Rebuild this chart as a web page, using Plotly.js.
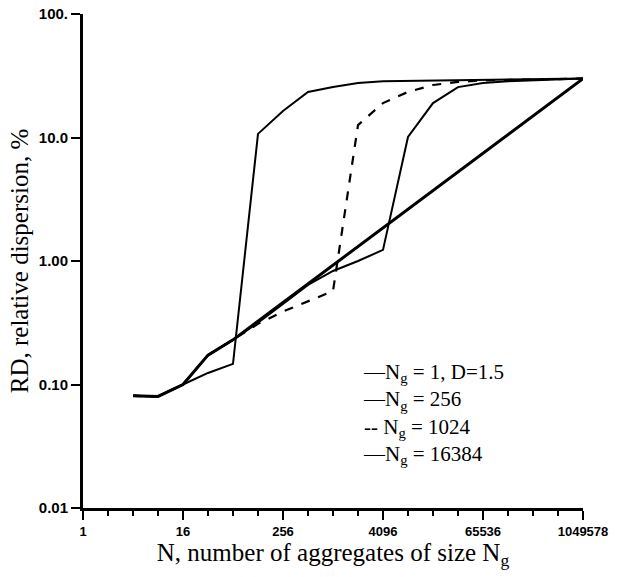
<!DOCTYPE html>
<html>
<head>
<meta charset="utf-8">
<script src="https://cdn.plot.ly/plotly-3.0.1.min.js"></script>
<style>html,body{margin:0;padding:0;background:#fff;}#chart{width:624px;height:577px;}</style>
</head>
<body>
<div id="chart"></div>
<script>
// Data
const nD15 = [4, 8, 16, 32, 64, 4096, 1048576];
const rdD15 = [0.081, 0.080, 0.10, 0.173, 0.23, 1.85, 30];

const n256 = [4, 8, 16, 32, 64, 128, 256, 512, 1024, 2048, 4096, 1048576];
const rd256 = [0.081, 0.080, 0.10, 0.124, 0.147, 10.7, 16.4, 23.4, 25.6, 27.6, 28.6, 30];

const n1024 = [4, 8, 16, 32, 64, 128, 256, 512, 1024, 2048, 4096, 8192, 16384, 32768, 65536, 1048576];
const rd1024 = [0.081, 0.080, 0.10, 0.173, 0.23, 0.31, 0.39, 0.47, 0.57, 12.6, 19, 23.4, 26.6, 28.2, 29, 30];

const n16384 = [4, 8, 16, 32, 64, 128, 256, 512, 1024, 2048, 4096, 8192, 16384, 32768, 65536, 131072, 1048576];
const rd16384 = [0.081, 0.080, 0.10, 0.173, 0.23, 0.317, 0.45, 0.64, 0.83, 1.0, 1.23, 10.1, 19, 25.6, 27.6, 28.5, 30];

const xTickVals = [1, 16, 256, 4096, 65536, 1048576];
const xTickText = ['1', '16', '256', '4096', '65536', '1049578'];
const xMinorVals = [2, 4, 8, 32, 64, 128, 512, 1024, 2048, 8192, 16384, 32768, 131072, 262144, 524288];
const yTickVals = [0.01, 0.1, 1, 10, 100];
const yTickText = ['0.01', '0.10', '1.00', '10.0', '100.'];

const seriesNames = ['N<sub>g</sub> = 1, D=1.5', 'N<sub>g</sub> = 256', 'N<sub>g</sub> = 1024', 'N<sub>g</sub> = 16384'];
const legendMarks = ['\u2014', '\u2014', '-- ', '\u2014'];

const traces = [
  {x: nD15, y: rdD15, name: seriesNames[0], mode: 'lines', line: {color: '#000', width: 3}},
  {x: n256, y: rd256, name: seriesNames[1], mode: 'lines', line: {color: '#000', width: 2}},
  {x: n1024, y: rd1024, name: seriesNames[2], mode: 'lines', line: {color: '#000', width: 2.2, dash: 'dash'}},
  {x: n16384, y: rd16384, name: seriesNames[3], mode: 'lines', line: {color: '#000', width: 2}}
];

// Legend drawn as text lines, like the original figure
const legendText = seriesNames.map((nm, i) => legendMarks[i] + nm).join('<br>');

const layout = {
  width: 624, height: 577,
  margin: {l: 83, r: 41, t: 14, b: 69},
  paper_bgcolor: '#fff', plot_bgcolor: '#fff',
  showlegend: false,
  annotations: [{
    xref: 'paper', yref: 'paper',
    x: 0.556, y: 0.303,
    xanchor: 'left', yanchor: 'top', align: 'left',
    text: legendText,
    showarrow: false,
    font: {family: 'Liberation Serif, serif', size: 21, color: '#000'}
  }],
  xaxis: {
    type: 'log', range: [0, Math.log10(1048576)],
    tickmode: 'array', tickvals: xTickVals, ticktext: xTickText,
    ticks: 'outside', ticklen: 9, tickwidth: 2, tickcolor: '#000',
    minor: {tickmode: 'array', tickvals: xMinorVals, ticks: 'outside', ticklen: 5, tickwidth: 2, tickcolor: '#000'},
    showline: true, linewidth: 3, linecolor: '#000',
    showgrid: false, zeroline: false,
    tickfont: {family: 'Liberation Sans, Arial, sans-serif', size: 13, color: '#000', weight: 'bold'},
    title: {text: 'N, number of aggregates of size N<sub>g</sub>', font: {family: 'Liberation Serif, serif', size: 25, color: '#000'}, standoff: 2}
  },
  yaxis: {
    type: 'log', range: [-2, 2],
    tickmode: 'array', tickvals: yTickVals, ticktext: yTickText,
    ticks: 'outside', ticklen: 9, tickwidth: 2, tickcolor: '#000',
    showline: true, linewidth: 3, linecolor: '#000',
    showgrid: false, zeroline: false,
    tickfont: {family: 'Liberation Sans, Arial, sans-serif', size: 15, color: '#000', weight: 'bold'},
    title: {text: 'RD, relative dispersion, %', font: {family: 'Liberation Serif, serif', size: 25, color: '#000'}, standoff: 4}
  }
};

Plotly.newPlot('chart', traces, layout, {staticPlot: true, displayModeBar: false});
</script>
</body>
</html>
